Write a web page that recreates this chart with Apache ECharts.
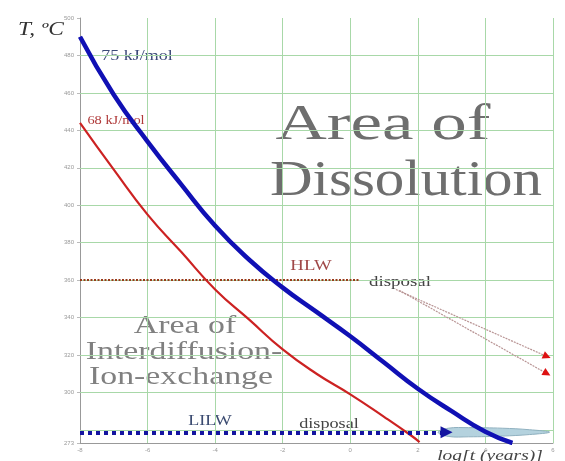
<!DOCTYPE html>
<html><head><meta charset="utf-8">
<script src="https://cdn.jsdelivr.net/npm/echarts@6/dist/echarts.min.js"></script>
<style>html,body{margin:0;padding:0;background:#fff}#c{width:565px;height:461px}</style>
</head><body><div id="c"></div>
<script>
// ---- data ----
const xTicks = [-8, -6, -4, -2, 0, 2, 4, 6];
const yTickLabels = [273, 300, 320, 340, 360, 380, 400, 420, 440, 460, 480, 500];
const yGridLines = [280, 300, 320, 340, 360, 380, 400, 420, 440, 460, 480];
// 75 kJ/mol curve (log t, T)
const blueLogT = [-8, -7, -6, -5, -4, -3, -2, -1, 0, 1, 2, 3, 4, 4.8];
const blueTemp = [490, 459, 434, 411, 389, 371, 356, 343, 330, 316, 302, 290, 279, 273];
// 68 kJ/mol curve
const redLogT = [-8, -7, -6, -5, -4, -3, -2, -1, 0, 1, 1.8, 2.05];
const redTemp = [444, 419, 395, 375, 355, 339, 323, 310, 299, 287, 277, 273.5];
// HLW disposal level
const hlwLogT = [-8, 0.25];
const hlwTemp = [360, 360];
// LILW disposal level (arrow)
const lilwLogT = [-8, 2.85];
const lilwTemp = [278.7, 278.7];
// HLW disposal arrows: start and end points
const hlwArrowStart = [[1.35, 355], [1.45, 354.5]];
const hlwArrowEnd = [[5.82, 319.2], [5.82, 310.1]];
// LILW disposal zone outline
const zoneLogT = [2.6, 2.9, 3.5, 4.5, 5.3, 5.9, 5.3, 4.5, 3.5, 2.9];
const zoneTemp = [278.7, 280.9, 281.2, 280.9, 280.1, 278.8, 277.5, 276.7, 276.3, 276.5];

const zip = (a, b) => a.map((v, i) => [v, b[i]]);
const serif = '"Liberation Serif", "DejaVu Serif", serif';

const chart = echarts.init(document.getElementById('c'), null, {renderer: 'canvas'});
const option = {
  animation: false,
  grid: {left: 80, right: 12, top: 18, bottom: 18},
  xAxis: {
    type: 'value', min: -8, max: 6, interval: 2,
    axisLine: {show: true, onZero: false, lineStyle: {color: '#999', width: 1}},
    axisTick: {show: false},
    axisLabel: {fontSize: 6, color: '#999', margin: 4, fontFamily: 'Arial'},
    splitLine: {show: true, lineStyle: {color: '#a8d8a8', width: 1}}
  },
  yAxis: {
    type: 'value', min: 273, max: 500,
    axisLine: {show: true, onZero: false, lineStyle: {color: '#999', width: 1}},
    axisTick: {show: true, customValues: yTickLabels, length: 3, lineStyle: {color: '#bbb'}},
    axisLabel: {fontSize: 6, color: '#999', margin: 6, customValues: yTickLabels, fontFamily: 'Arial'},
    splitLine: {show: false}
  },
  series: [
    {
      type: 'custom', z: 3,
      data: [[zoneLogT[0], zoneTemp[0]]],
      renderItem: function (params, api) {
        const pts = zoneLogT.map((t, i) => api.coord([t, zoneTemp[i]]));
        return {type: 'polygon', shape: {points: pts, smooth: 0.4},
          style: {fill: '#b4d2de', stroke: '#8fb0bf', lineWidth: 1}};
      }
    },
    {
      type: 'line', data: zip(redLogT, redTemp), smooth: 0.5, symbol: 'none', z: 4,
      lineStyle: {color: '#cc2222', width: 2.2},
      markLine: {
        silent: true, symbol: 'none', z: 1, animation: false,
        label: {show: false},
        lineStyle: {color: '#a8d8a8', width: 1, type: 'solid'},
        data: yGridLines.map(v => ({yAxis: v}))
      }
    },
    {
      type: 'line', data: zip(blueLogT, blueTemp), smooth: 0.5, symbol: 'none', z: 5,
      lineStyle: {color: '#1010b4', width: 4.5}
    },
    {
      type: 'line', data: zip(hlwLogT, hlwTemp), symbol: 'none', z: 3,
      lineStyle: {color: '#9a3a1a', width: 2, type: [2, 1.5]}
    },
    {
      type: 'lines', coordinateSystem: 'cartesian2d', z: 6,
      symbol: ['none', 'triangle'], symbolSize: 12,
      lineStyle: {color: '#1414a0', width: 4, type: [4, 4], opacity: 1},
      data: [{coords: zip(lilwLogT, lilwTemp)}]
    },
    {
      type: 'lines', coordinateSystem: 'cartesian2d', z: 6,
      symbol: 'none',
      lineStyle: {color: '#b89494', width: 1.2, type: [2, 1], opacity: 1},
      data: hlwArrowStart.map((s, i) => ({coords: [s, hlwArrowEnd[i]]}))
    },
    {
      type: 'lines', coordinateSystem: 'cartesian2d', z: 7,
      symbol: ['none', 'triangle'], symbolSize: 8,
      lineStyle: {color: '#dd1111', width: 0, opacity: 1},
      data: hlwArrowStart.map((s, i) => ({coords: [s, hlwArrowEnd[i]]}))
    }
  ],
  graphic: [
    {type: 'text', x: 18, y: 30, scaleX: 1.3, style: {text: 'T, ºC', font: 'italic 18px ' + serif, fill: '#333', textVerticalAlign: 'middle'}},
    {type: 'text', x: 490, y: 456, scaleX: 1.3, style: {text: 'log[t (years)]', font: 'italic 15px ' + serif, fill: '#444', textAlign: 'center', textVerticalAlign: 'middle'}},
    {type: 'text', x: 137, y: 56, scaleX: 1.2, style: {text: '75 kJ/mol', font: '15px ' + serif, fill: '#3c4a78', textAlign: 'center', textVerticalAlign: 'middle'}},
    {type: 'text', x: 116, y: 121, scaleX: 1.2, style: {text: '68 kJ/mol', font: '12px ' + serif, fill: '#b03a3a', textAlign: 'center', textVerticalAlign: 'middle'}},
    {type: 'text', x: 311, y: 266, scaleX: 1.25, style: {text: 'HLW', font: '15px ' + serif, fill: '#a04848', textAlign: 'center', textVerticalAlign: 'middle'}},
    {type: 'text', x: 400, y: 282, scaleX: 1.35, style: {text: 'disposal', font: '14px ' + serif, fill: '#444', textAlign: 'center', textVerticalAlign: 'middle'}},
    {type: 'text', x: 210, y: 421, scaleX: 1.2, style: {text: 'LILW', font: '15px ' + serif, fill: '#3a4a70', textAlign: 'center', textVerticalAlign: 'middle'}},
    {type: 'text', x: 329, y: 424, scaleX: 1.3, style: {text: 'disposal', font: '14px ' + serif, fill: '#444', textAlign: 'center', textVerticalAlign: 'middle'}},
    {type: 'text', x: 383, y: 126, scaleX: 1.42, style: {text: 'Area of', font: '50px ' + serif, fill: '#6e6e6e', textAlign: 'center', textVerticalAlign: 'middle'}},
    {type: 'text', x: 406, y: 182, scaleX: 1.18, style: {text: 'Dissolution', font: '50px ' + serif, fill: '#6e6e6e', textAlign: 'center', textVerticalAlign: 'middle'}},
    {type: 'text', x: 185, y: 326, scaleX: 1.3, style: {text: 'Area of', font: '26px ' + serif, fill: '#808080', textAlign: 'center', textVerticalAlign: 'middle'}},
    {type: 'text', x: 184, y: 352, scaleX: 1.3, style: {text: 'Interdiffusion-', font: '26px ' + serif, fill: '#808080', textAlign: 'center', textVerticalAlign: 'middle'}},
    {type: 'text', x: 181, y: 377, scaleX: 1.3, style: {text: 'Ion-exchange', font: '26px ' + serif, fill: '#808080', textAlign: 'center', textVerticalAlign: 'middle'}}
  ]
};
chart.setOption(option);
</script>
</body></html>
